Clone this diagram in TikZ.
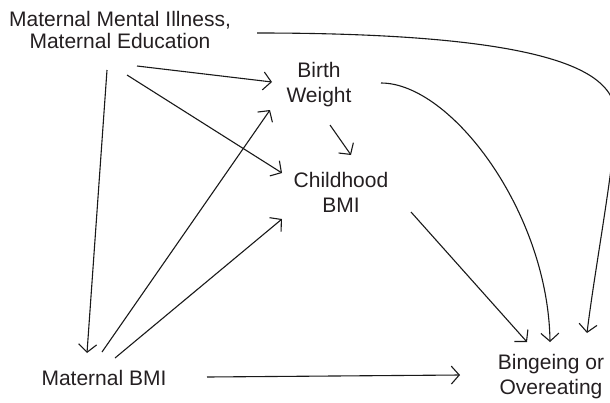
\documentclass[tikz,border=0pt]{standalone}
\usepackage{fontspec}
\setmainfont{Liberation Sans}
\usetikzlibrary{arrows.meta}
\definecolor{TextClr}{rgb}{0.14,0.12,0.13}
\definecolor{LineClr}{rgb}{0.1,0.1,0.1}

\begin{document}
\begin{tikzpicture}[x=0.5pt,y=-0.5pt,
  var/.style={align=center,inner sep=0pt,text=TextClr,font=\fontsize{10.5}{12.5}\selectfont},
  arr/.style={draw=LineClr,line width=0.55pt,-{Straight Barb[length=4pt,width=9pt]}}]
\useasboundingbox (0,0) rectangle (610,402);

\node[var,font=\fontsize{10.5}{11}\selectfont] (mmi) at (120,30) {Maternal Mental Illness,\\Maternal Education};
\node[var] (bw) at (319,85) {Birth\\Weight};
\node[var] (cbmi) at (341,192) {Childhood\\BMI};
\node[var] (mbmi) at (104,378) {Maternal BMI};
\node[var] (bo) at (551,377) {Bingeing or\\Overeating};

% paths out of the maternal factors
\draw[arr] ([shift={(17,36)}]mmi.center) -- ([shift={(-47,-3)}]bw.center);
\draw[arr] ([shift={(7,45)}]mmi.center) -- ([shift={(-59,-19)}]cbmi.center);
\draw[arr] ([shift={(-13,40)}]mmi.center) -- ([shift={(-17,-25)}]mbmi.center);
\draw[arr] ([shift={(137,3)}]mmi.center) .. controls +(330,0) and +(-5,-30) .. ++(359,79)
  .. controls +(0,45) and +(8,-66) .. ([shift={(36,-44)}]bo.center);

\draw[arr] ([shift={(-2,-26)}]mbmi.center) -- ([shift={(-49,25)}]bw.center);
\draw[arr] ([shift={(11,-20)}]mbmi.center) -- ([shift={(-59,27)}]cbmi.center);
\draw[arr] ([shift={(103,-1)}]mbmi.center) -- ([shift={(-91,-2)}]bo.center);

% birth weight and childhood BMI
\draw[arr] ([shift={(11,40)}]bw.center) -- ([shift={(10,-37)}]cbmi.center);
\draw[arr] ([shift={(62,-2)}]bw.center) .. controls +(70,0) and +(-2,-130) .. ([shift={(-1,-35)}]bo.center);
\draw[arr] ([shift={(70,20)}]cbmi.center) -- ([shift={(-24,-35)}]bo.center);

\end{tikzpicture}
\end{document}
